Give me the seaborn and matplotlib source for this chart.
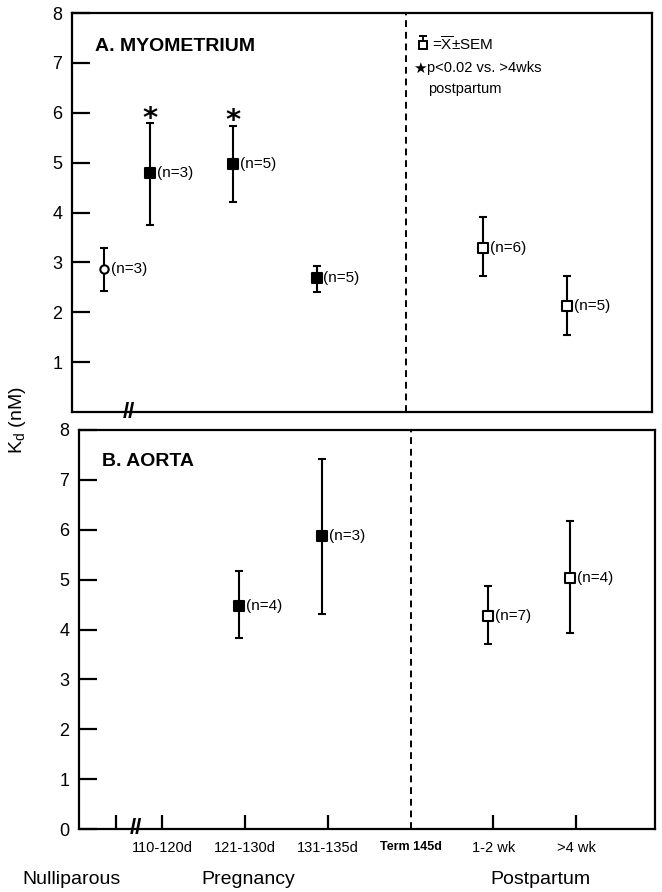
import pandas as pd
import matplotlib.pyplot as plt
import seaborn as sns

# categories along the time axis
categories = ["Nulliparous", "110-120d", "121-130d", "131-135d", "Term 145d", "1-2 wk", ">4 wk"]
cat_pos = [0.45, 1, 2, 3, 4, 5, 6]

# A. myometrium
myo_group = ["Nulliparous", "110-120d", "121-130d", "131-135d", "1-2 wk", ">4 wk"]
myo_kind = ["nulliparous", "pregnant", "pregnant", "pregnant", "postpartum", "postpartum"]
myo_mean = [2.86, 4.80, 4.98, 2.68, 3.28, 2.12]
myo_lo = [2.43, 3.74, 4.21, 2.40, 2.73, 1.54]
myo_hi = [3.28, 5.79, 5.74, 2.93, 3.90, 2.73]
myo_n = [3, 3, 5, 5, 6, 5]
myo_star = [False, True, True, False, False, False]

# B. aorta
aorta_group = ["121-130d", "131-135d", "1-2 wk", ">4 wk"]
aorta_kind = ["pregnant", "pregnant", "postpartum", "postpartum"]
aorta_mean = [4.47, 5.87, 4.27, 5.04]
aorta_lo = [3.82, 4.31, 3.71, 3.93]
aorta_hi = [5.17, 7.41, 4.88, 6.17]
aorta_n = [4, 3, 7, 4]

sns.set_style("ticks")
plt.rcParams["font.family"] = ["Liberation Sans", "DejaVu Sans"]
plt.rcParams["mathtext.fontset"] = "custom"
plt.rcParams["mathtext.rm"] = "Liberation Sans"
plt.rcParams["mathtext.it"] = "Liberation Sans:italic"
plt.rcParams["text.color"] = "black"
plt.rcParams["xtick.color"] = "black"
plt.rcParams["ytick.color"] = "black"

styles = {
    "nulliparous": dict(marker="o", facecolor="white", s=36),
    "pregnant": dict(marker="s", facecolor="black", s=55),
    "postpartum": dict(marker="s", facecolor="white", s=42),
}
pos = dict(zip(categories, cat_pos))
shift = -0.07


def build(group, kind, mean, lo, hi, n):
    df = pd.DataFrame({"group": group, "kind": kind, "mean": mean, "lo": lo, "hi": hi, "n": n})
    df["x"] = df["group"].map(pos) + shift
    return df


def draw_panel(ax, df, title, show_xticks):
    ax.set_xlim(0, 6.95)
    ax.set_ylim(0, 8)
    ax.errorbar(df["x"], df["mean"], yerr=[df["mean"] - df["lo"], df["hi"] - df["mean"]],
                fmt="none", ecolor="black", elinewidth=1.5, capsize=3, capthick=1.5, zorder=2)
    for k, st in styles.items():
        sub = df[df["kind"] == k]
        if len(sub) == 0:
            continue
        sns.scatterplot(data=sub, x="x", y="mean", ax=ax, marker=st["marker"], s=st["s"],
                        color=st["facecolor"], edgecolor="black", linewidth=1.5, zorder=3, legend=False)
    for _, r in df.iterrows():
        ax.annotate(f"(n={r['n']})", (r["x"], r["mean"]), xytext=(5, 0), textcoords="offset points",
                    va="center", ha="left", fontsize=11)
    ax.axvline(pos["Term 145d"], color="black", lw=1.4, ls=(0, (3.5, 2.5)), zorder=1)
    ax.text(0.04, 0.92 if show_xticks else 0.915, title, transform=ax.transAxes, fontsize=14,
            fontweight="bold", va="center", ha="left")
    ax.text(0.685, 0, "//", fontsize=16, fontweight="bold", ha="center", va="center",
            transform=ax.get_xaxis_transform(), zorder=5)
    ax.set_xlabel("")
    ax.set_ylabel("")
    for sp in ax.spines.values():
        sp.set_visible(True)
        sp.set_linewidth(1.6)
        sp.set_color("black")
    ax.tick_params(axis="y", left=True, direction="in", length=13, width=1.6, labelsize=13, pad=7)
    if show_xticks:
        ax.set_xticks(cat_pos)
        ax.set_xticklabels(["", "110-120d", "121-130d", "131-135d", "Term 145d", "1-2 wk", ">4 wk"])
        ax.tick_params(axis="x", bottom=True, direction="in", length=10, width=1.6, labelsize=10.5, pad=9)
        ax.xaxis.get_major_ticks()[4].tick1line.set_visible(False)
        lbl = ax.get_xticklabels()[4]
        lbl.set_fontsize(9)
        lbl.set_fontweight("bold")
        ax.set_yticks(range(0, 9))
    else:
        ax.set_xticks([])
        ax.set_yticks(range(1, 9))


fig = plt.figure(figsize=(6.62, 8.92), dpi=100)
ax_a = fig.add_axes([72 / 662, 480 / 892, 580 / 662, 399 / 892])
ax_b = fig.add_axes([79 / 662, 63 / 892, 576 / 662, 399 / 892])

myo = build(myo_group, myo_kind, myo_mean, myo_lo, myo_hi, myo_n)
aorta = build(aorta_group, aorta_kind, aorta_mean, aorta_lo, aorta_hi, aorta_n)

draw_panel(ax_a, myo, "A. MYOMETRIUM", False)
draw_panel(ax_b, aorta, "B. AORTA", True)

# significance stars
for x, h, s in zip(myo["x"], myo["hi"], myo_star):
    if s:
        ax_a.annotate("*", (x, h), xytext=(0, -7), textcoords="offset points", ha="center",
                      va="bottom", fontsize=21, fontweight="bold", family=["DejaVu Sans"])

# key in panel A
ax_a.errorbar([0.605], [0.92], yerr=[[0], [0.022]], transform=ax_a.transAxes, fmt="s", ms=6,
              mfc="white", mec="black", mew=1.4, ecolor="black", elinewidth=1.3, capsize=3, capthick=1.3)
ax_a.text(0.62, 0.92, r"=$\overline{\mathrm{X}}$±SEM", transform=ax_a.transAxes, fontsize=11,
          va="center", ha="left")
ax_a.text(0.588, 0.862, "★", transform=ax_a.transAxes, fontsize=11, va="center", ha="left",
          family=["DejaVu Sans"])
ax_a.text(0.612, 0.862, "p<0.02 vs. >4wks", transform=ax_a.transAxes, fontsize=10.5,
          va="center", ha="left")
ax_a.text(0.614, 0.81, "postpartum", transform=ax_a.transAxes, fontsize=10.5, va="center", ha="left")

fig.text(18 / 662, 1 - 420 / 892, r"K$_\mathrm{d}$ (nM)", rotation=90, fontsize=14, ha="center", va="center")
fig.text(71 / 662, 1 - 880 / 892, "Nulliparous", fontsize=14, ha="center", va="center")
fig.text(248 / 662, 1 - 880 / 892, "Pregnancy", fontsize=14, ha="center", va="center")
fig.text(540 / 662, 1 - 880 / 892, "Postpartum", fontsize=14, ha="center", va="center")

fig.savefig("out.png", dpi=100)
